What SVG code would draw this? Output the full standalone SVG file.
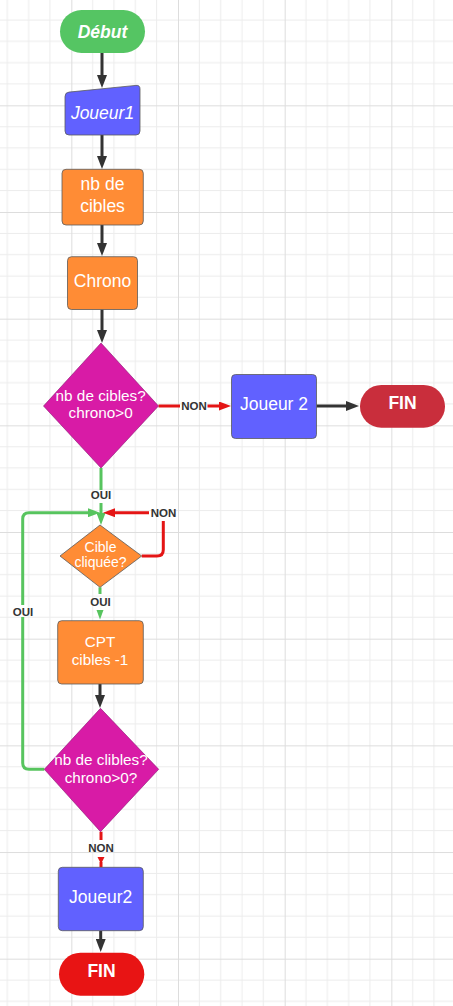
<svg xmlns="http://www.w3.org/2000/svg" width="453" height="1006" viewBox="0 0 453 1006">
<style>
.t{font-family:"Liberation Sans",Arial,sans-serif;text-anchor:middle;fill:#ffffff}
.n{font-size:17.5px}
.lbl{font-family:"Liberation Sans",Arial,sans-serif;font-weight:bold;font-size:11.5px;fill:#333333;text-anchor:middle}
.dark{stroke:#333333;stroke-width:3;fill:none}
.red{stroke:#e41515;stroke-width:3;fill:none}
.green{stroke:#57c45e;stroke-width:3;fill:none}
.box{stroke:#5a5a5a;stroke-width:0.8}
</style>
<defs>
<pattern id="grid" patternUnits="userSpaceOnUse" x="71.33" y="105.33" width="106.67" height="106.67">
<path d="M21.33,0V106.67M42.67,0V106.67M64,0V106.67M85.33,0V106.67M0,21.33H106.67M0,42.67H106.67M0,64H106.67M0,85.33H106.67" stroke="#ececec" stroke-width="1" fill="none"/>
<path d="M0.5,0V106.67M0,0.5H106.67" stroke="#dddddd" stroke-width="1" fill="none"/>
</pattern>
<marker id="ad" markerUnits="userSpaceOnUse" viewBox="0 0 13 10" refX="7" refY="5" markerWidth="13" markerHeight="10" orient="auto"><path d="M0,0L13,5L0,10Z" fill="#333333"/></marker>
<marker id="ar" markerUnits="userSpaceOnUse" viewBox="0 0 12 9" refX="6" refY="4.5" markerWidth="12" markerHeight="9" orient="auto"><path d="M0,0L12,4.5L0,9Z" fill="#e41515"/></marker>
<marker id="ag" markerUnits="userSpaceOnUse" viewBox="0 0 12 9" refX="6" refY="4.5" markerWidth="12" markerHeight="9" orient="auto"><path d="M0,0L12,4.5L0,9Z" fill="#57c45e"/></marker>
</defs>
<rect width="453" height="1006" fill="#ffffff"/>
<rect width="453" height="1006" fill="url(#grid)"/>

<g id="connectors">
<path class="dark" d="M102,53V82" marker-end="url(#ad)"/>
<path class="dark" d="M102,135V163" marker-end="url(#ad)"/>
<path class="dark" d="M102,225V250" marker-end="url(#ad)"/>
<path class="dark" d="M102,309.5V337" marker-end="url(#ad)"/>
<path class="red" d="M158.5,406H180M207.5,406H225" marker-end="url(#ar)"/>
<path class="dark" d="M316.5,406H353" marker-end="url(#ad)"/>
<path class="green" d="M101,468V490M101,503V519" marker-end="url(#ag)"/>
<path class="green" d="M44.3,769.3H29Q22.7,769.3 22.7,763V617M22.7,605V519Q22.7,512.7 29,512.7H94" marker-end="url(#ag)"/>
<path class="red" d="M141.7,556H157Q163.3,556 163.3,549.7V521M149,512.7H109" marker-end="url(#ar)"/>
<path class="green" d="M100,587.3V594"/>
<path d="M96.5,610L103.5,610L100,619.5Z" fill="#57c45e"/>
<path class="dark" d="M100,684V702" marker-end="url(#ad)"/>
<path class="red" d="M101,831.7V840"/>
<path class="red" d="M101,862V867.3"/>
<path d="M97.5,857L104.5,857L101,864Z" fill="#e41515"/>
<path class="dark" d="M100.7,930.7V946" marker-end="url(#ad)"/>
<text class="lbl" x="194" y="410">NON</text>
<text class="lbl" x="101" y="499.3">OUI</text>
<text class="lbl" x="163.5" y="517">NON</text>
<text class="lbl" x="100.5" y="606.3">OUI</text>
<text class="lbl" x="23" y="615.5">OUI</text>
<text class="lbl" x="101" y="851.5">NON</text>
</g>

<g id="debut">
<rect x="60" y="10" width="85" height="43" rx="21.5" fill="#55c563"/>
<text class="t n" x="102.5" y="37.5" font-weight="bold" font-style="italic">Début</text>
</g>
<g id="joueur1">
<path d="M69,92.1L136,85.4Q140,85 140,89V131Q140,135 136,135H69Q65,135 65,131V96.5Q65,92.5 69,92.1Z" fill="#6161ff" class="box" stroke="#8080ff"/>
<text class="t n" x="102.5" y="119" font-style="italic">Joueur1</text>
</g>
<g id="nbcibles">
<rect x="62" y="169.3" width="81.3" height="55.7" rx="4" fill="#ff8c35" class="box"/>
<text class="t n" x="102.5" y="190" fill="#fff3e8">nb de</text>
<text class="t n" x="102.5" y="212.3">cibles</text>
</g>
<g id="chrono">
<rect x="67.5" y="256.7" width="70" height="52.8" rx="4" fill="#ff8c35" class="box"/>
<text class="t n" x="102.5" y="287.3">Chrono</text>
</g>
<g id="test1">
<path d="M101,343L158.5,406L101,468L43.5,406Z" fill="#d81ba6" stroke="#8a1070" stroke-width="0.6"/>
<text class="t" x="100.7" y="401" font-size="15.3px">nb de cibles?</text>
<text class="t" x="100.7" y="418.3" font-size="15.3px">chrono&gt;0</text>
</g>
<g id="joueur2a">
<rect x="231.5" y="374.5" width="85" height="64" rx="4" fill="#6161ff" class="box"/>
<text class="t n" x="274" y="410">Joueur 2</text>
</g>
<g id="fin1">
<rect x="360" y="385" width="85" height="42.7" rx="21.3" fill="#c92e3c"/>
<text class="t n" x="402.5" y="409.3" font-weight="bold">FIN</text>
</g>
<g id="cible">
<path d="M100,525L141.7,556L100,587.3L60,556Z" fill="#ff8c35" stroke="#5a5a5a" stroke-width="0.8"/>
<text class="t" x="100.5" y="551.5" font-size="14px">Cible</text>
<text class="t" x="100.5" y="567" font-size="14px">cliquée?</text>
</g>
<g id="cpt">
<rect x="57.7" y="620.7" width="85.6" height="63.3" rx="4" fill="#ff8c35" class="box"/>
<text class="t" x="100" y="647.3" font-size="15.2px">CPT</text>
<text class="t" x="100" y="665" font-size="15.2px">cibles -1</text>
</g>
<g id="test2">
<path d="M100.5,708.3L158.7,769.3L100.5,831.7L44.3,769.3Z" fill="#d81ba6" stroke="#8a1070" stroke-width="0.6"/>
<text class="t" x="101" y="765" font-size="15.3px">nb de clibles?</text>
<text class="t" x="101" y="783.3" font-size="15.3px">chrono&gt;0?</text>
</g>
<g id="joueur2b">
<rect x="58.3" y="867.3" width="85" height="63.4" rx="4" fill="#6161ff" class="box"/>
<text class="t n" x="100.7" y="902.7">Joueur2</text>
</g>
<g id="fin2">
<rect x="59" y="952.7" width="85.3" height="43" rx="21.5" fill="#e81414"/>
<text class="t n" x="101.5" y="977.3" font-weight="bold">FIN</text>
</g>
</svg>
